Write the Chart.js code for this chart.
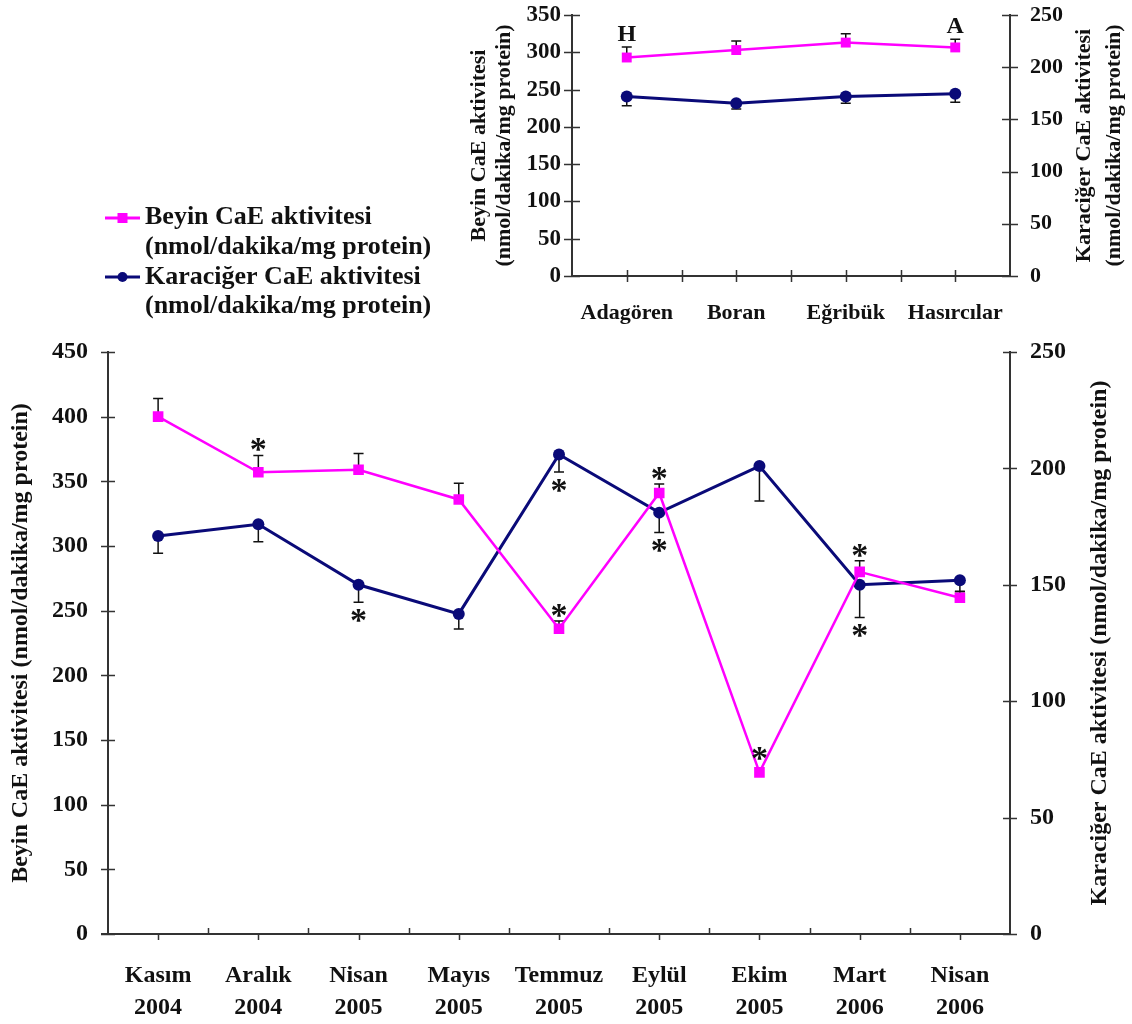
<!DOCTYPE html>
<html>
<head>
<meta charset="utf-8">
<script src="https://cdn.jsdelivr.net/npm/chart.js@4.4.1/dist/chart.umd.min.js"></script>
<style>
  html, body { margin: 0; padding: 0; background: #fff; overflow: hidden; }
  #aylik { position: absolute; left: 0; top: 0; }
  #istasyon { position: absolute; left: 460px; top: -25px; }
</style>
</head>
<body>
<canvas id="aylik" width="1132" height="1024"></canvas>
<canvas id="istasyon" width="672" height="360"></canvas>
<script>
// Monthly sampling (main chart)
const aylar = [['Kasım','2004'],['Aralık','2004'],['Nisan','2005'],['Mayıs','2005'],['Temmuz','2005'],
               ['Eylül','2005'],['Ekim','2005'],['Mart','2006'],['Nisan','2006']];
const beyinAylik        = [400, 357, 359, 336, 236, 341, 125, 280, 260];
const beyinAylikHata    = [14, 13, 12.5, 12.5, 6, 7, 0, 8.5, 5];
const beyinAylikIsaret  = ['', '*', '', '', '*', '*', '*', '*', ''];
const karaciğerAylik       = [171, 176, 150, 137.5, 206, 181, 201, 150, 152];
const karaciğerAylikHata   = [7.5, 7.5, 7.5, 6.5, 7.5, 8.5, 15, 14, 5];
const karaciğerAylikIsaret = ['', '', '*', '', '*', '*', '', '*', ''];

// Sampling stations (inset chart)
const istasyonlar = ['Adagören', 'Boran', 'Eğribük', 'Hasırcılar'];
const beyinIstasyon       = [293, 303, 313, 306.5];
const beyinIstasyonHata   = [14, 12, 12, 11];
const beyinIstasyonIsaret = ['H', '', '', 'A'];
const karaciğerIstasyon     = [172, 165.5, 172, 174.5];
const karaciğerIstasyonHata = [9, 5.5, 6.5, 8];

// Axis ranges
const beyinEksenAylik = { min: 0, max: 450, step: 50 };
const beyinEksenIstasyon = { min: 0, max: 350, step: 50 };
const karaciğerEksen = { min: 0, max: 250, step: 50 };

const beyinBaslik = 'Beyin CaE aktivitesi';
const karaciğerBaslik = 'Karaciğer CaE aktivitesi';
const birim = '(nmol/dakika/mg protein)';

const PEMBE = '#ff00ff';
const LACIVERT = '#0a0a78';
const AXIS = '#333333';
const SERIF = '"Liberation Serif", "Times New Roman", serif';

// Vertical error bars (one-sided) and significance marks above/below them
const errorBarPlugin = {
  id: 'errorBars',
  beforeDatasetsDraw(chart) {
    const ctx = chart.ctx;
    chart.data.datasets.forEach((ds, di) => {
      if (!ds.errors) return;
      const meta = chart.getDatasetMeta(di);
      const ys = chart.scales[ds.yAxisID];
      ctx.save();
      ctx.strokeStyle = '#111';
      ctx.lineWidth = 1.5;
      meta.data.forEach((pt, i) => {
        const e = ds.errors[i];
        if (!e) return;
        const y0 = ys.getPixelForValue(ds.data[i]);
        const y1 = ys.getPixelForValue(ds.data[i] + ds.errDir * e);
        ctx.beginPath();
        ctx.moveTo(pt.x, y0); ctx.lineTo(pt.x, y1);
        ctx.moveTo(pt.x - 5, y1); ctx.lineTo(pt.x + 5, y1);
        ctx.stroke();
      });
      ctx.restore();
    });
  },
  afterDatasetsDraw(chart) {
    const ctx = chart.ctx;
    chart.data.datasets.forEach((ds, di) => {
      if (!ds.marks) return;
      const meta = chart.getDatasetMeta(di);
      const ys = chart.scales[ds.yAxisID];
      meta.data.forEach((pt, i) => {
        const m = ds.marks[i];
        if (!m) return;
        const cap = ys.getPixelForValue(ds.data[i] + ds.errDir * (ds.errors[i] || 0));
        let y;
        if (ds.errDir > 0) y = Math.min(cap, pt.y - 8) - (m === '*' ? 11 : 12);
        else y = Math.max(cap, pt.y + 8) + 13;
        ctx.save();
        ctx.fillStyle = '#111';
        ctx.textAlign = 'center';
        if (m === '*') {
          ctx.font = 'bold 34px ' + SERIF;
          ctx.textBaseline = 'alphabetic';
          ctx.fillText(m, pt.x, y + 16);
        } else {
          ctx.font = 'bold 24px ' + SERIF;
          ctx.textBaseline = 'middle';
          ctx.fillText(m, pt.x, y);
        }
        ctx.restore();
      });
    });
  }
};

// Tick marks crossing the axes
const tickMarkPlugin = {
  id: 'tickMarks',
  afterDraw(chart, args, o) {
    const { ctx, chartArea: a } = chart;
    ctx.save();
    ctx.strokeStyle = AXIS;
    ctx.lineWidth = 1.5;
    ctx.beginPath();
    ['y', 'y2'].forEach(id => {
      const s = chart.scales[id];
      const x = s.position === 'left' ? a.left : a.right;
      s.ticks.forEach(t => {
        const y = Math.round(s.getPixelForValue(t.value)) + 0.5;
        ctx.moveTo(x - o.y, y); ctx.lineTo(x + o.y, y);
      });
    });
    const xs = chart.scales.x;
    const n = xs.getLabels().length;
    const yb = a.bottom;
    for (let i = 0; i < n; i++) {
      const px = Math.round(xs.getPixelForValue(i)) + 0.5;
      ctx.moveTo(px, yb - o.centerUp); ctx.lineTo(px, yb + o.centerDown);
      if (i < n - 1) {
        const pb = Math.round(xs.getPixelForValue(i + 0.5)) + 0.5;
        ctx.moveTo(pb, yb - o.edgeUp); ctx.lineTo(pb, yb + o.edgeDown);
      }
    }
    ctx.stroke();
    if (o.extendLeft) {
      ctx.lineWidth = 2;
      ctx.beginPath();
      ctx.moveTo(a.left - o.extendLeft, yb); ctx.lineTo(a.left, yb);
      ctx.stroke();
    }
    ctx.restore();
  }
};

// Right-hand axis title, reading bottom to top like the left one
const sideTitlePlugin = {
  id: 'sideTitle',
  afterDraw(chart, args, o) {
    if (!o.lines) return;
    const { ctx, chartArea: a } = chart;
    const cy = (a.top + a.bottom) / 2;
    ctx.save();
    ctx.fillStyle = '#111';
    ctx.font = 'bold ' + o.size + 'px ' + SERIF;
    ctx.textAlign = 'center';
    ctx.textBaseline = 'middle';
    o.lines.forEach((line, i) => {
      ctx.save();
      ctx.translate(o.x[i], cy);
      ctx.rotate(-Math.PI / 2);
      ctx.fillText(line, 0, 0);
      ctx.restore();
    });
    ctx.restore();
  }
};

// Legend with two-line entries
const legendPlugin = {
  id: 'twoLineLegend',
  afterDraw(chart, args, o) {
    if (!o.items) return;
    const ctx = chart.ctx;
    ctx.save();
    o.items.forEach(item => {
      const ds = chart.data.datasets[item.dataset];
      ctx.strokeStyle = ds.borderColor;
      ctx.fillStyle = ds.backgroundColor;
      ctx.lineWidth = 3;
      ctx.beginPath();
      ctx.moveTo(o.x0, item.y); ctx.lineTo(o.x1, item.y);
      ctx.stroke();
      const cx = (o.x0 + o.x1) / 2;
      if (ds.pointStyle === 'rect') {
        ctx.fillRect(cx - 5, item.y - 5, 10, 10);
      } else {
        ctx.beginPath(); ctx.arc(cx, item.y, 5, 0, Math.PI * 2); ctx.fill();
      }
      ctx.fillStyle = '#111';
      ctx.font = 'bold 26px ' + SERIF;
      ctx.textAlign = 'left';
      ctx.textBaseline = 'middle';
      item.lines.forEach((line, k) => ctx.fillText(line, o.tx, item.lineY[k]));
    });
    ctx.restore();
  }
};

Chart.defaults.font.family = SERIF;
Chart.defaults.color = '#111';

function tickFont(size, lh) { return { family: SERIF, size: size, weight: 'bold', lineHeight: lh || 1.2 }; }
const noGrid = { display: false, drawTicks: false };

// Main chart: monthly activities
new Chart(document.getElementById('aylik'), {
  type: 'line',
  data: {
    labels: aylar,
    datasets: [
      {
        label: beyinBaslik, data: beyinAylik, yAxisID: 'y',
        errors: beyinAylikHata, errDir: 1, marks: beyinAylikIsaret,
        borderColor: PEMBE, backgroundColor: PEMBE, borderWidth: 2.5,
        pointStyle: 'rect', pointRadius: 7.5, pointBorderWidth: 0, tension: 0
      },
      {
        label: karaciğerBaslik, data: karaciğerAylik, yAxisID: 'y2',
        errors: karaciğerAylikHata, errDir: -1, marks: karaciğerAylikIsaret,
        borderColor: LACIVERT, backgroundColor: LACIVERT, borderWidth: 3,
        pointStyle: 'circle', pointRadius: 6, pointBorderWidth: 0, tension: 0
      }
    ]
  },
  options: {
    responsive: false, animation: false, events: [],
    layout: { padding: { top: 352, left: 0, right: 0, bottom: 0 } },
    scales: {
      x: {
        type: 'category', offset: true,
        grid: noGrid,
        border: { display: true, color: AXIS, width: 2 },
        ticks: { font: tickFont(24, 32 / 24), padding: 26, color: '#111', maxRotation: 0, autoSkip: false },
        afterFit(s) { s.height = 90; }
      },
      y: {
        position: 'left', min: beyinEksenAylik.min, max: beyinEksenAylik.max,
        grid: noGrid,
        border: { display: true, color: AXIS, width: 2 },
        ticks: { stepSize: beyinEksenAylik.step, font: tickFont(24), padding: 20, color: '#111' },
        title: { display: true, text: beyinBaslik + ' ' + birim, font: tickFont(24), padding: { top: 6, bottom: 0 }, color: '#111' },
        afterFit(s) { s.width = 108; }
      },
      y2: {
        position: 'right', min: karaciğerEksen.min, max: karaciğerEksen.max,
        grid: noGrid,
        border: { display: true, color: AXIS, width: 2 },
        ticks: { stepSize: karaciğerEksen.step, font: tickFont(24), padding: 20, color: '#111' },
        afterFit(s) { s.width = 122; }
      }
    },
    plugins: {
      legend: { display: false },
      tooltip: { enabled: false },
      tickMarks: { y: 7, centerUp: 0, centerDown: 6, edgeUp: 6, edgeDown: 0, extendLeft: 7 },
      sideTitle: { lines: [karaciğerBaslik + ' ' + birim], x: [1100], size: 24 },
      twoLineLegend: {
        x0: 105, x1: 140, tx: 145,
        items: [
          { dataset: 0, y: 218, lines: [beyinBaslik, birim], lineY: [217, 247] },
          { dataset: 1, y: 277, lines: [karaciğerBaslik, birim], lineY: [277, 306] }
        ]
      }
    }
  },
  plugins: [errorBarPlugin, tickMarkPlugin, sideTitlePlugin, legendPlugin]
});

// Inset chart: sampling stations
new Chart(document.getElementById('istasyon'), {
  type: 'line',
  data: {
    labels: istasyonlar,
    datasets: [
      {
        label: beyinBaslik, data: beyinIstasyon, yAxisID: 'y',
        errors: beyinIstasyonHata, errDir: 1, marks: beyinIstasyonIsaret,
        borderColor: PEMBE, backgroundColor: PEMBE, borderWidth: 2.5,
        pointStyle: 'rect', pointRadius: 7, pointBorderWidth: 0, tension: 0
      },
      {
        label: karaciğerBaslik, data: karaciğerIstasyon, yAxisID: 'y2',
        errors: karaciğerIstasyonHata, errDir: -1,
        borderColor: LACIVERT, backgroundColor: LACIVERT, borderWidth: 3,
        pointStyle: 'circle', pointRadius: 6, pointBorderWidth: 0, tension: 0
      }
    ]
  },
  options: {
    responsive: false, animation: false, events: [],
    layout: { padding: { top: 40, left: 0, right: 0, bottom: 0 } },
    scales: {
      x: {
        type: 'category', offset: true,
        grid: noGrid,
        border: { display: true, color: AXIS, width: 2 },
        ticks: { font: tickFont(22), padding: 24, color: '#111', maxRotation: 0, autoSkip: false },
        afterFit(s) { s.height = 59; }
      },
      y: {
        position: 'left', min: beyinEksenIstasyon.min, max: beyinEksenIstasyon.max,
        grid: noGrid,
        border: { display: true, color: AXIS, width: 2 },
        ticks: { stepSize: beyinEksenIstasyon.step, font: tickFont(23), padding: 11, color: '#111' },
        title: { display: true, text: [beyinBaslik, birim], font: tickFont(22, 25 / 22), padding: { top: 7, bottom: 0 }, color: '#111' },
        afterFit(s) { s.width = 112; }
      },
      y2: {
        position: 'right', min: karaciğerEksen.min, max: karaciğerEksen.max,
        grid: noGrid,
        border: { display: true, color: AXIS, width: 2 },
        ticks: { stepSize: karaciğerEksen.step, font: tickFont(22), padding: 20, color: '#111' },
        afterFit(s) { s.width = 122; }
      }
    },
    plugins: {
      legend: { display: false },
      tooltip: { enabled: false },
      tickMarks: { y: 8, centerUp: 6, centerDown: 6, edgeUp: 6, edgeDown: 6 },
      sideTitle: { lines: [karaciğerBaslik, birim], x: [624, 654], size: 22 }
    }
  },
  plugins: [errorBarPlugin, tickMarkPlugin, sideTitlePlugin]
});
</script>
</body>
</html>
